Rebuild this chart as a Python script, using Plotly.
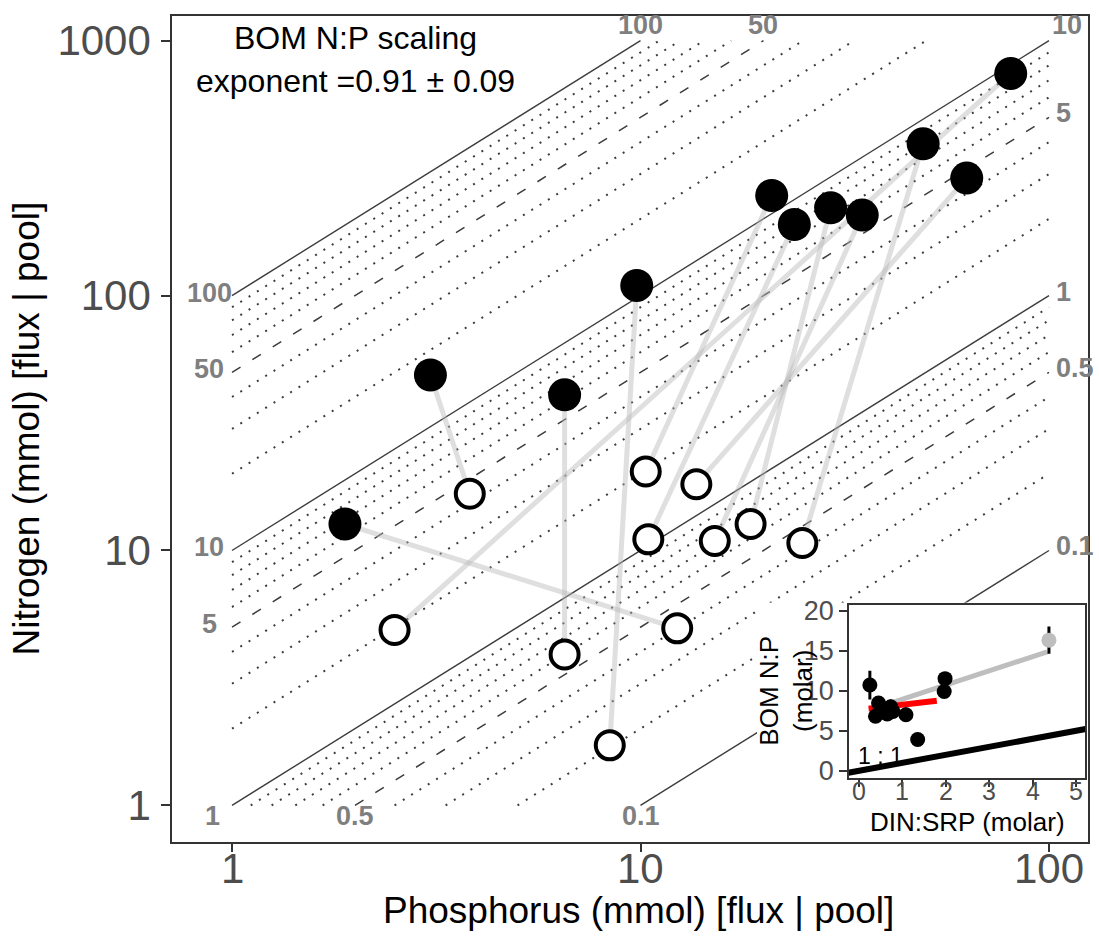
import math
import plotly.graph_objects as go

# ---------------- data ----------------
# flux (filled) and pool (open) per site, paired in the same order
flux_P = [1.89, 3.06, 6.52, 9.79, 20.95, 23.8, 29.2, 34.9, 49.2, 62.9, 80.6]
flux_N = [12.7, 48.8, 40.8, 109.6, 247, 190, 221, 207, 394, 289, 744]
pool_P = [12.3, 3.82, 6.52, 8.41, 10.3, 10.45, 18.6, 15.2, 24.9, 13.7, 2.50]
pool_N = [4.95, 16.7, 3.91, 1.72, 20.4, 11.06, 12.7, 10.9, 10.7, 18.2, 4.88]

# N:P reference ratio lines
ratios_solid = [0.1, 1, 10, 100]
ratios_dashed = [0.5, 5, 50]
ratios_dotted = [0.2, 0.3, 0.4, 0.6, 0.7, 0.8, 0.9, 2, 3, 4, 6, 7, 8, 9,
                 20, 30, 40, 60, 70, 80, 90]
P_lim = [1, 100]
N_lim = [1, 1000]

labels_left = [100, 50, 10, 5]
labels_bottom = [1, 0.5, 0.1]
labels_top = [100, 50, 10]
labels_right = [5, 1, 0.5, 0.1]

x_ticks = [1, 10, 100]
y_ticks = [1, 10, 100, 1000]

title_lines = ["BOM N:P scaling", "exponent =0.91 \u00b1 0.09"]

# inset: BOM N:P vs DIN:SRP
inset_x = [0.25, 0.45, 0.38, 0.73, 0.65, 0.55, 0.78, 1.08, 1.35, 1.98, 1.96]
inset_y = [10.7, 8.45, 6.8, 8.0, 7.1, 7.6, 7.4, 7.0, 3.9, 11.5, 9.9]
inset_err = [1.8, 0.5, 0.4, 0.9, 0.5, 0.6, 0.7, 0.9, 0.3, 0.4, 0.3]
inset_gray_x = [4.37]
inset_gray_y = [16.3]
inset_gray_err = [1.7]
fit_all_x = [0.25, 4.33]
fit_all_y = [7.6, 14.85]
fit_sub_x = [0.22, 1.79]
fit_sub_y = [7.76, 8.75]
one_to_one = [-0.3, 5.3]
inset_xticks = [0, 1, 2, 3, 4, 5]
inset_yticks = [0, 5, 10, 15, 20]

# ---------------- layout geometry ----------------
W, H = 1099, 944
L, R, T, B = 172, 11, 7, 102
PW = W - L - R
PH = H - T - B
FONT = "Liberation Sans, Arial, sans-serif"
LABEL_GRAY = "#7f7f7f"
LINE_GRAY = "#3d3d3d"
TICK_GRAY = "#4d4d4d"


def px_x(px):
    return (px - L) / PW


def px_y(py):
    return (H - B - py) / PH


def segs(ratios):
    xs, ys = [], []
    for r in ratios:
        p0 = max(P_lim[0], N_lim[0] / r)
        p1 = min(P_lim[1], N_lim[1] / r)
        xs += [p0, p1, None]
        ys += [r * p0, r * p1, None]
    return xs, ys


fig = go.Figure()

for ratios, dash, width in [(ratios_dotted, "2px,7.8px", 2.0),
                            (ratios_dashed, "10px,14px", 1.5),
                            (ratios_solid, "solid", 1.4)]:
    xs, ys = segs(ratios)
    fig.add_trace(go.Scatter(x=xs, y=ys, mode="lines",
                             line=dict(color=LINE_GRAY, width=width, dash=dash),
                             hoverinfo="skip", showlegend=False))

# connectors between flux and pool of each site
cx, cy = [], []
for fp, fn, pp, pn in zip(flux_P, flux_N, pool_P, pool_N):
    cx += [fp, pp, None]
    cy += [fn, pn, None]
fig.add_trace(go.Scatter(x=cx, y=cy, mode="lines",
                         line=dict(color="rgba(185,185,185,0.45)", width=5),
                         hoverinfo="skip", showlegend=False))

fig.add_trace(go.Scatter(x=pool_P, y=pool_N, mode="markers",
                         marker=dict(size=28, color="white",
                                     line=dict(color="black", width=4)),
                         showlegend=False))
fig.add_trace(go.Scatter(x=flux_P, y=flux_N, mode="markers",
                         marker=dict(size=33, color="black", line=dict(width=0)),
                         showlegend=False))

# white cover behind inset (its own subplot so it draws above main traces)
fig.add_trace(go.Scatter(x=[0.5], y=[0.5], mode="markers", marker=dict(opacity=0),
                         xaxis="x2", yaxis="y2", hoverinfo="skip", showlegend=False))

# inset traces
fig.add_trace(go.Scatter(x=one_to_one, y=one_to_one, mode="lines",
                         line=dict(color="black", width=6),
                         xaxis="x3", yaxis="y3", hoverinfo="skip", showlegend=False))
fig.add_trace(go.Scatter(x=fit_all_x, y=fit_all_y, mode="lines",
                         line=dict(color="#bebebe", width=5),
                         xaxis="x3", yaxis="y3", hoverinfo="skip", showlegend=False))
fig.add_trace(go.Scatter(x=fit_sub_x, y=fit_sub_y, mode="lines",
                         line=dict(color="#ff0000", width=6),
                         xaxis="x3", yaxis="y3", hoverinfo="skip", showlegend=False))
fig.add_trace(go.Scatter(x=inset_x, y=inset_y, mode="markers",
                         marker=dict(size=15, color="black"),
                         error_y=dict(type="data", array=inset_err, color="black",
                                      thickness=3, width=0),
                         xaxis="x3", yaxis="y3", showlegend=False))
fig.add_trace(go.Scatter(x=inset_gray_x, y=inset_gray_y, mode="markers",
                         marker=dict(size=15, color="#bebebe"),
                         error_y=dict(type="data", array=inset_gray_err, color="black",
                                      thickness=3, width=0),
                         xaxis="x3", yaxis="y3", showlegend=False))

axis_common = dict(showline=True, linecolor="#333333", linewidth=1.5, mirror=True,
                   ticks="outside", ticklen=9, tickwidth=1.5, tickcolor="#333333",
                   showgrid=False, zeroline=False)

annotations = []


def ann(**kw):
    d = dict(showarrow=False, font=dict(family=FONT, size=27, color=LABEL_GRAY))
    d.update(kw)
    annotations.append(d)


def bold(v):
    return "<b>%g</b>" % v


for r in labels_left:
    ann(x=math.log10(P_lim[0]), y=math.log10(r), xref="x", yref="y", text=bold(r),
        xanchor="center", yanchor="middle", xshift=-23, yshift=3)
for r in labels_bottom:
    ann(x=math.log10(max(P_lim[0], N_lim[0] / r)), y=math.log10(N_lim[0]),
        xref="x", yref="y", text=bold(r), xanchor="center", yanchor="middle",
        xshift=(-20 if r == 1 else 0), yshift=-11)
for r in labels_top:
    ann(x=math.log10(min(P_lim[1], N_lim[1] / r)), y=math.log10(N_lim[1]),
        xref="x", yref="y", text=bold(r), xanchor="center", yanchor="middle",
        xshift=(18 if r == 10 else 0), yshift=16)
for r in labels_right:
    ann(x=math.log10(P_lim[1]), y=math.log10(P_lim[1] * r), xref="x", yref="y",
        text=bold(r), xanchor="left", yanchor="middle", xshift=5, yshift=4)

# title text in panel
ann(x=px_x(355), y=px_y(29), xref="paper", yref="paper", text=title_lines[0],
    xanchor="center", yanchor="middle", font=dict(family=FONT, size=32, color="black"))
ann(x=px_x(355), y=px_y(73), xref="paper", yref="paper", text=title_lines[1],
    xanchor="center", yanchor="middle", font=dict(family=FONT, size=32, color="black"))

# main x tick labels (placed tight under the ticks as in the reference)
for v in x_ticks:
    ann(x=math.log10(v), y=px_y(869), xref="x", yref="paper", text=str(v),
        xanchor="center", yanchor="middle",
        font=dict(family=FONT, size=42, color=TICK_GRAY))

# axis titles
ann(x=px_x(638), y=px_y(911), xref="paper", yref="paper",
    text="Phosphorus (mmol) [flux | pool]", xanchor="center", yanchor="middle",
    font=dict(family=FONT, size=37, color="black"))
ann(x=px_x(27), y=px_y(424), xref="paper", yref="paper", textangle=-90,
    text="Nitrogen (mmol) [flux | pool]", xanchor="center", yanchor="middle",
    font=dict(family=FONT, size=37, color="black"))

# inset x tick labels
for v in inset_xticks:
    ann(x=v, y=px_y(790), xref="x3", yref="paper", text=str(v),
        xanchor="center", yanchor="middle",
        font=dict(family=FONT, size=25, color=TICK_GRAY))

# inset titles
ann(x=px_x(786), y=px_y(689), xref="paper", yref="paper", textangle=-90,
    text="BOM N:P<br>(molar)", xanchor="center", yanchor="middle",
    font=dict(family=FONT, size=26, color="black"))
ann(x=px_x(967), y=px_y(822), xref="paper", yref="paper",
    text="DIN:SRP (molar)", xanchor="center", yanchor="middle",
    font=dict(family=FONT, size=26, color="black"))
ann(x=0.5, y=1.9, xref="x3", yref="y3", text="1 : 1", xanchor="center",
    yanchor="middle", font=dict(family=FONT, size=23, color="black"))

fig.update_layout(
    width=W, height=H,
    margin=dict(l=L, r=R, t=T, b=B, pad=0),
    paper_bgcolor="white", plot_bgcolor="white",
    font=dict(family=FONT),
    showlegend=False,
    xaxis=dict(type="log", range=[math.log10(0.713), math.log10(124.6)],
               tickvals=x_ticks, showticklabels=False, domain=[0, 1],
               anchor="y", **dict(axis_common, ticklen=8)),
    yaxis=dict(type="log", range=[math.log10(0.7183), math.log10(1250)],
               tickvals=y_ticks, ticktext=[str(v) for v in y_ticks],
               tickfont=dict(size=42, color=TICK_GRAY), domain=[0, 1],
               anchor="x", ticklabelstandoff=2, **axis_common),
    xaxis2=dict(domain=[px_x(757), px_x(1087)], range=[0, 1], visible=False,
                anchor="y2", fixedrange=True),
    yaxis2=dict(domain=[px_y(841), px_y(600)], range=[0, 1], visible=False,
                anchor="x2", fixedrange=True),
    xaxis3=dict(domain=[px_x(849), px_x(1085)], range=[-0.23, 5.2],
                tickvals=inset_xticks, showticklabels=False, anchor="y3",
                **dict(axis_common, ticklen=8)),
    yaxis3=dict(domain=[px_y(777), px_y(602)], range=[-0.86, 20.74],
                tickvals=inset_yticks, ticktext=[str(v) for v in inset_yticks],
                tickfont=dict(size=27, color=TICK_GRAY), anchor="x3",
                **dict(axis_common, ticklen=8)),
    annotations=annotations,
)

fig.write_html("out.html")
